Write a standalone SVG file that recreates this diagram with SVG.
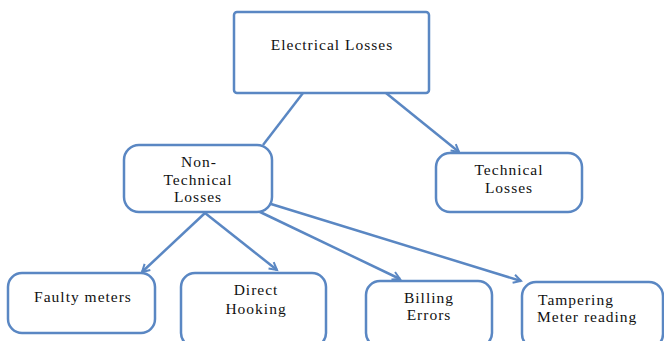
<svg xmlns="http://www.w3.org/2000/svg" width="664" height="341" viewBox="0 0 664 341">
<style>
.box{fill:#fff;stroke:#5a87c3;stroke-width:2.5}
.t{font-family:"Liberation Serif","Times New Roman",serif;font-size:15.5px;letter-spacing:1px;fill:#111;text-anchor:middle}
.c{stroke:#5a87c3;stroke-width:2.5;fill:none}
</style>
<defs>
<marker id="ah" viewBox="0 0 12 12" refX="10" refY="6" markerWidth="10" markerHeight="10" markerUnits="userSpaceOnUse" orient="auto" overflow="visible">
<path d="M1,1 L10,6 L1,11" fill="none" stroke="#5a87c3" stroke-width="2.4"/>
</marker>
</defs>
<rect width="664" height="341" fill="#fff"/>
<g id="connectors">
<line class="c" x1="303" y1="93" x2="263" y2="145"/>
<line class="c" x1="386" y1="93" x2="459" y2="152" marker-end="url(#ah)"/>
<line class="c" x1="205" y1="213" x2="142" y2="272" marker-end="url(#ah)"/>
<line class="c" x1="205" y1="213" x2="277" y2="270" marker-end="url(#ah)"/>
<line class="c" x1="258" y1="211" x2="400" y2="279" marker-end="url(#ah)"/>
<line class="c" x1="271" y1="204" x2="521" y2="281" marker-end="url(#ah)"/>
</g>
<g id="electrical">
<rect class="box" x="234" y="12" width="195" height="81" rx="3"/>
<text class="t" x="332" y="50">Electrical Losses</text>
</g>
<g id="nontechnical">
<rect class="box" x="124" y="145" width="148" height="67" rx="15"/>
<text class="t" x="199" y="167">Non-</text>
<text class="t" x="198" y="185">Technical</text>
<text class="t" x="198" y="202">Losses</text>
</g>
<g id="technical">
<rect class="box" x="436" y="153" width="146" height="59" rx="14"/>
<text class="t" x="509" y="175">Technical</text>
<text class="t" x="509" y="193">Losses</text>
</g>
<g id="faulty">
<rect class="box" x="8" y="273" width="147" height="60" rx="14"/>
<text class="t" x="83" y="302">Faulty meters</text>
</g>
<g id="direct">
<rect class="box" x="181" y="273" width="145" height="74" rx="14"/>
<text class="t" x="256" y="295">Direct</text>
<text class="t" x="256" y="314">Hooking</text>
</g>
<g id="billing">
<rect class="box" x="366" y="281" width="126" height="66" rx="14"/>
<text class="t" x="429" y="303">Billing</text>
<text class="t" x="429" y="320">Errors</text>
</g>
<g id="tampering">
<rect class="box" x="522" y="282" width="141" height="66" rx="14"/>
<text class="t" x="538" y="305" style="text-anchor:start">Tampering</text>
<text class="t" x="537" y="322" style="text-anchor:start">Meter reading</text>
</g>
</svg>
